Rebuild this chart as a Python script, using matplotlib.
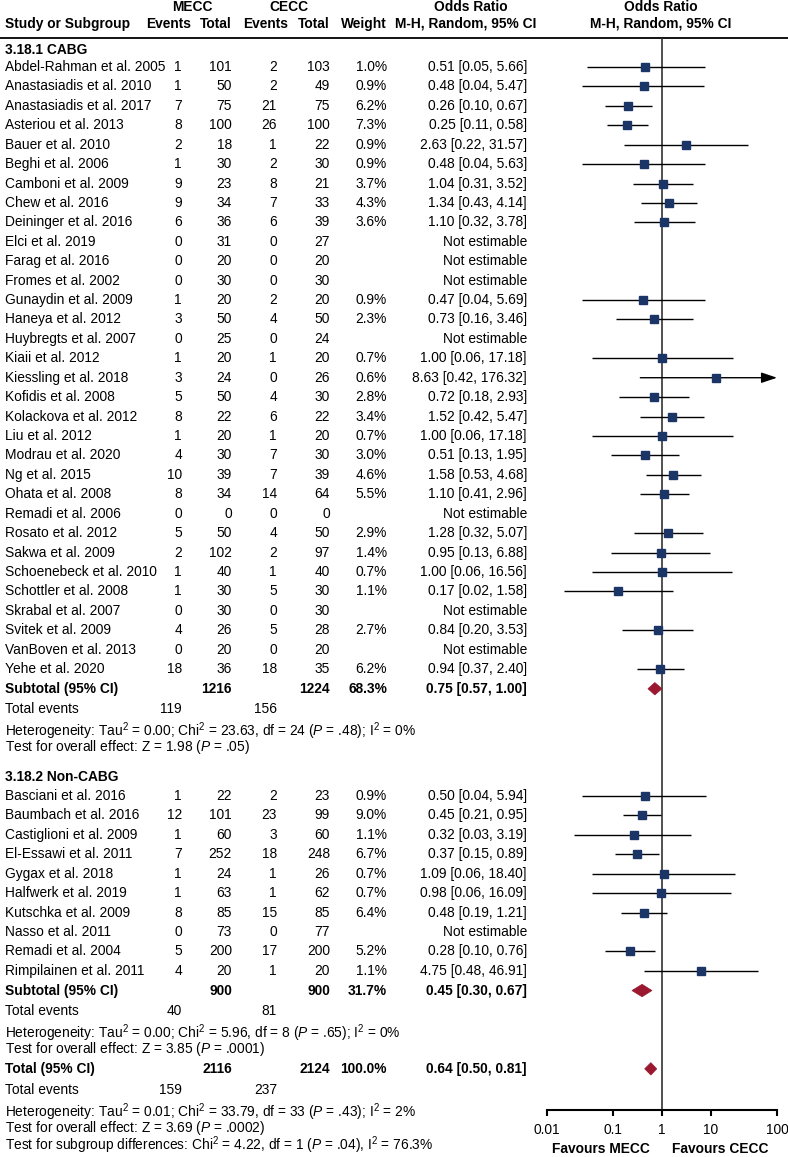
import matplotlib
matplotlib.use('Agg')
import matplotlib.pyplot as plt
from matplotlib.patches import Polygon

plt.rcParams['font.family'] = ['Liberation Sans', 'DejaVu Sans']
plt.rcParams['mathtext.fontset'] = 'custom'
plt.rcParams['mathtext.rm'] = 'Liberation Sans'
plt.rcParams['mathtext.it'] = 'Liberation Sans:italic'
plt.rcParams['mathtext.bf'] = 'Liberation Sans:bold'

# ---------------- data ----------------
cabg_studies = ["Abdel-Rahman et al. 2005", "Anastasiadis et al. 2010", "Anastasiadis et al. 2017",
                "Asteriou et al. 2013", "Bauer et al. 2010", "Beghi et al. 2006", "Camboni et al. 2009",
                "Chew et al. 2016", "Deininger et al. 2016", "Elci et al. 2019", "Farag et al. 2016",
                "Fromes et al. 2002", "Gunaydin et al. 2009", "Haneya et al. 2012", "Huybregts et al. 2007",
                "Kiaii et al. 2012", "Kiessling et al. 2018", "Kofidis et al. 2008", "Kolackova et al. 2012",
                "Liu et al. 2012", "Modrau et al. 2020", "Ng et al. 2015", "Ohata et al. 2008",
                "Remadi et al. 2006", "Rosato et al. 2012", "Sakwa et al. 2009", "Schoenebeck et al. 2010",
                "Schottler et al. 2008", "Skrabal et al. 2007", "Svitek et al. 2009", "VanBoven et al. 2013",
                "Yehe et al. 2020"]
cabg_e_mecc = [1, 1, 7, 8, 2, 1, 9, 9, 6, 0, 0, 0, 1, 3, 0, 1, 3, 5, 8, 1, 4, 10, 8, 0, 5, 2, 1, 1, 0, 4, 0, 18]
cabg_n_mecc = [101, 50, 75, 100, 18, 30, 23, 34, 36, 31, 20, 30, 20, 50, 25, 20, 24, 50, 22, 20, 30, 39, 34, 0,
               50, 102, 40, 30, 30, 26, 20, 36]
cabg_e_cecc = [2, 2, 21, 26, 1, 2, 8, 7, 6, 0, 0, 0, 2, 4, 0, 1, 0, 4, 6, 1, 7, 7, 14, 0, 4, 2, 1, 5, 0, 5, 0, 18]
cabg_n_cecc = [103, 49, 75, 100, 22, 30, 21, 33, 39, 27, 20, 30, 20, 50, 24, 20, 26, 30, 22, 20, 30, 39, 64, 0,
               50, 97, 40, 30, 30, 28, 20, 35]
cabg_weight = [1.0, 0.9, 6.2, 7.3, 0.9, 0.9, 3.7, 4.3, 3.6, None, None, None, 0.9, 2.3, None, 0.7, 0.6, 2.8,
               3.4, 0.7, 3.0, 4.6, 5.5, None, 2.9, 1.4, 0.7, 1.1, None, 2.7, None, 6.2]
cabg_or = [0.51, 0.48, 0.26, 0.25, 2.63, 0.48, 1.04, 1.34, 1.10, None, None, None, 0.47, 0.73, None, 1.00,
           8.63, 0.72, 1.52, 1.00, 0.51, 1.58, 1.10, None, 1.28, 0.95, 1.00, 0.17, None, 0.84, None, 0.94]
cabg_lo = [0.05, 0.04, 0.10, 0.11, 0.22, 0.04, 0.31, 0.43, 0.32, None, None, None, 0.04, 0.16, None, 0.06,
           0.42, 0.18, 0.42, 0.06, 0.13, 0.53, 0.41, None, 0.32, 0.13, 0.06, 0.02, None, 0.20, None, 0.37]
cabg_hi = [5.66, 5.47, 0.67, 0.58, 31.57, 5.63, 3.52, 4.14, 3.78, None, None, None, 5.69, 3.46, None, 17.18,
           176.32, 2.93, 5.47, 17.18, 1.95, 4.68, 2.96, None, 5.07, 6.88, 16.56, 1.58, None, 3.53, None, 2.40]

non_studies = ["Basciani et al. 2016", "Baumbach et al. 2016", "Castiglioni et al. 2009", "El-Essawi et al. 2011",
               "Gygax et al. 2018", "Halfwerk et al. 2019", "Kutschka et al. 2009", "Nasso et al. 2011",
               "Remadi et al. 2004", "Rimpilainen et al. 2011"]
non_e_mecc = [1, 12, 1, 7, 1, 1, 8, 0, 5, 4]
non_n_mecc = [22, 101, 60, 252, 24, 63, 85, 73, 200, 20]
non_e_cecc = [2, 23, 3, 18, 1, 1, 15, 0, 17, 1]
non_n_cecc = [23, 99, 60, 248, 26, 62, 85, 77, 200, 20]
non_weight = [0.9, 9.0, 1.1, 6.7, 0.7, 0.7, 6.4, None, 5.2, 1.1]
non_or = [0.50, 0.45, 0.32, 0.37, 1.09, 0.98, 0.48, None, 0.28, 4.75]
non_lo = [0.04, 0.21, 0.03, 0.15, 0.06, 0.06, 0.19, None, 0.10, 0.48]
non_hi = [5.94, 0.95, 3.19, 0.89, 18.40, 16.09, 1.21, None, 0.76, 46.91]

sub_labels = ["3.18.1 CABG", "3.18.2 Non-CABG"]
sub_n_mecc = [1216, 900]
sub_n_cecc = [1224, 900]
sub_weight = [68.3, 31.7]
sub_or = [0.75, 0.45]
sub_lo = [0.57, 0.30]
sub_hi = [1.00, 0.67]
sub_ev_mecc = [119, 40]
sub_ev_cecc = [156, 81]
sub_het = [r"Heterogeneity: Tau$^2$ = 0.00; Chi$^2$ = 23.63, df = 24 ($P$ = .48); I$^2$ = 0%",
           r"Heterogeneity: Tau$^2$ = 0.00; Chi$^2$ = 5.96, df = 8 ($P$ = .65); I$^2$ = 0%"]
sub_test = [r"Test for overall effect: Z = 1.98 ($P$ = .05)",
            r"Test for overall effect: Z = 3.85 ($P$ = .0001)"]

tot_n_mecc, tot_n_cecc, tot_weight = 2116, 2124, 100.0
tot_or, tot_lo, tot_hi = 0.64, 0.50, 0.81
tot_ev_mecc, tot_ev_cecc = 159, 237
tot_notes = [r"Heterogeneity: Tau$^2$ = 0.01; Chi$^2$ = 33.79, df = 33 ($P$ = .43); I$^2$ = 2%",
             r"Test for overall effect: Z = 3.69 ($P$ = .0002)",
             r"Test for subgroup differences: Chi$^2$ = 4.22, df = 1 ($P$ = .04), I$^2$ = 76.3%"]

tick_vals = [0.01, 10 ** -0.85, 1, 10 ** 0.85, 100]
tick_labels = ["0.01", "0.1", "1", "10", "100"]

# ---------------- layout ----------------
W, H = 788, 1157
FS = 9.9
SQ_COL = '#1b3567'
DIA_COL = '#9a1830'

fig = plt.figure(figsize=(W / 100, H / 100), dpi=100)
ax0 = fig.add_axes([0, 0, 1, 1])
ax0.set_xlim(0, W)
ax0.set_ylim(H, 0)
ax0.axis('off')

X_AX0, X_AX1 = 547, 777
Y_TOP, Y_AX = 37.5, 1110
axf = fig.add_axes([X_AX0 / W, 1 - Y_AX / H, (X_AX1 - X_AX0) / W, (Y_AX - Y_TOP) / H])
axf.set_xscale('log')
axf.set_xlim(0.01, 100)
axf.set_ylim(Y_AX, Y_TOP)
axf.patch.set_alpha(0)
for s in ['top', 'left', 'right']:
    axf.spines[s].set_visible(False)
axf.spines['bottom'].set_linewidth(1.5)
axf.set_yticks([])
axf.set_xticks(tick_vals)
axf.set_xticklabels(tick_labels)
axf.xaxis.set_minor_locator(matplotlib.ticker.NullLocator())
axf.tick_params(axis='x', direction='out', length=4, width=1.5, labelsize=FS, pad=5)
axf.axvline(1, color='#333333', lw=1.2, zorder=1)

COLX = dict(name=5, e1=182, n1=232, e2=277, n2=330, w=387, orr=527)


def t(x, y, s, ha='left', bold=False, **kw):
    ax0.text(x, y, s, ha=ha, va='center', fontsize=FS,
             fontweight='bold' if bold else 'normal', color='black', **kw)


# header
t(192, 7, "MECC", 'center', True)
t(289, 7, "CECC", 'center', True)
t(471, 7, "Odds Ratio", 'center', True)
t(661, 7, "Odds Ratio", 'center', True)
t(COLX['name'], 24, "Study or Subgroup", 'left', True)
t(169, 24, "Events", 'center', True)
t(COLX['n1'], 24, "Total", 'right', True)
t(266, 24, "Events", 'center', True)
t(COLX['n2'], 24, "Total", 'right', True)
t(COLX['w'], 24, "Weight", 'right', True)
t(466, 24, "M-H, Random, 95% CI", 'center', True)
t(661, 24, "M-H, Random, 95% CI", 'center', True)
ax0.plot([0, W], [Y_TOP, Y_TOP], color='black', lw=1.3)


def study_row(y, name, e1, n1, e2, n2, w, orv, lo, hi):
    t(COLX['name'], y, name)
    t(COLX['e1'], y, str(e1), 'right')
    t(COLX['n1'], y, str(n1), 'right')
    t(COLX['e2'], y, str(e2), 'right')
    t(COLX['n2'], y, str(n2), 'right')
    if w is None:
        t(COLX['orr'], y, "Not estimable", 'right')
        return
    t(COLX['w'], y, f"{w:.1f}%", 'right')
    t(COLX['orr'], y, f"{orv:.2f} [{lo:.2f}, {hi:.2f}]", 'right')
    if hi > 100:
        axf.annotate('', xy=(100, y), xytext=(lo, y),
                     arrowprops=dict(arrowstyle='-|>,head_length=0.95,head_width=0.32',
                                     color='black', lw=1.0, mutation_scale=10,
                                     shrinkA=0, shrinkB=0), zorder=2)
    else:
        axf.plot([lo, hi], [y, y], color='black', lw=1.0, zorder=2, solid_capstyle='butt')
    axf.plot([orv], [y], marker='s', ms=5.2, color=SQ_COL, mec=SQ_COL, zorder=3)


def summary_row(y, label, n1, n2, w, orv, lo, hi):
    t(COLX['name'], y, label, bold=True)
    t(COLX['n1'], y, str(n1), 'right', True)
    t(COLX['n2'], y, str(n2), 'right', True)
    t(COLX['w'], y, f"{w:.1f}%", 'right', True)
    t(COLX['orr'], y, f"{orv:.2f} [{lo:.2f}, {hi:.2f}]", 'right', True)
    hh = 6.2
    axf.add_patch(Polygon([(lo, y), (orv, y - hh), (hi, y), (orv, y + hh)], closed=True,
                          facecolor=DIA_COL, edgecolor=DIA_COL, lw=0.5, zorder=3))


def events_row(y, a, b):
    t(COLX['name'], y, "Total events")
    t(COLX['e1'], y, str(a), 'right')
    t(COLX['e2'], y, str(b), 'right')


groups = [
    (cabg_studies, cabg_e_mecc, cabg_n_mecc, cabg_e_cecc, cabg_n_cecc, cabg_weight, cabg_or, cabg_lo, cabg_hi),
    (non_studies, non_e_mecc, non_n_mecc, non_e_cecc, non_n_cecc, non_weight, non_or, non_lo, non_hi),
]
ROW = 19.42

y = 49.5
for gi, g in enumerate(groups):
    t(COLX['name'], y, sub_labels[gi], bold=True)
    y += 17.5 if gi == 0 else 19.5
    for i in range(len(g[0])):
        study_row(y, *(col[i] for col in g))
        y += ROW
    y += 0.3
    summary_row(y, "Subtotal (95% CI)", sub_n_mecc[gi], sub_n_cecc[gi], sub_weight[gi],
                sub_or[gi], sub_lo[gi], sub_hi[gi])
    y += 20
    events_row(y, sub_ev_mecc[gi], sub_ev_cecc[gi])
    y += 22.5
    t(COLX['name'], y, sub_het[gi])
    y += 15.8
    t(COLX['name'], y, sub_test[gi])
    y += 29.5

y -= 9.5
summary_row(y, "Total (95% CI)", tot_n_mecc, tot_n_cecc, tot_weight, tot_or, tot_lo, tot_hi)
y += 21
events_row(y, tot_ev_mecc, tot_ev_cecc)
y += 22
for note in tot_notes:
    t(COLX['name'], y, note)
    y += 16.5

t(650, 1149, "Favours MECC", 'right', True)
t(672, 1149, "Favours CECC", 'left', True)

fig.savefig('out.png', dpi=100)
